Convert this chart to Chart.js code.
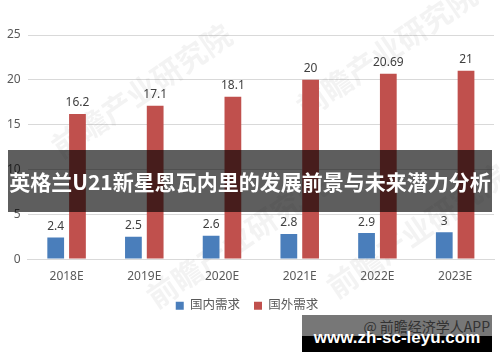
<!DOCTYPE html>
<html>
<head>
<meta charset="utf-8">
<script src="https://cdn.jsdelivr.net/npm/chart.js@4/dist/chart.umd.min.js"></script>
<style>
  html, body { margin: 0; padding: 0; background: #fff; }
  #wrap { position: relative; width: 500px; height: 362px; overflow: hidden; }
  #banner {
    position: absolute; left: 8px; top: 150px; width: 484px; height: 62px;
    background: rgba(0,0,0,0.63); color: #fff;
    font: bold 21px "Noto Sans CJK SC", sans-serif;
    line-height: 62px; text-align: center; white-space: nowrap;
  }
  #mark {
    position: absolute; left: 302px; top: 315px; width: 190px; height: 37px;
    background: linear-gradient(#777 0, #777 21px, #000 21px, #000 100%);
  }
  #mark .src {
    position: absolute; right: 2px; top: 1px; white-space: nowrap;
    font: 14px "Noto Sans CJK SC", sans-serif; color: #333;
  }
  #mark .url {
    position: absolute; left: 0; width: 190px; top: 13px; text-align: center; white-space: nowrap;
    font: bold 17px "Liberation Sans", sans-serif; color: #fff;
  }
</style>
</head>
<body>
<div id="wrap">
  <canvas id="chart" width="500" height="362"></canvas>
  <div id="banner">英格兰U21新星恩瓦内里的发展前景与未来潜力分析</div>
  <div id="mark"><span class="src">@ 前瞻经济学人APP</span><span class="url">www.zh-sc-leyu.com</span></div>
</div>
<script>
// 数据
var years = ['2018E', '2019E', '2020E', '2021E', '2022E', '2023E'];
var domestic = [2.4, 2.5, 2.6, 2.8, 2.9, 3];
var foreign = [16.2, 17.1, 18.1, 20, 20.69, 21];
var seriesNames = ['国内需求', '国外需求'];

var font = "'Noto Sans', 'Noto Sans CJK SC', sans-serif";

// 柱顶数值标签
var valueLabels = {
  id: 'valueLabels',
  afterDatasetsDraw: function(chart) {
    var ctx = chart.ctx;
    ctx.save();
    ctx.fillStyle = '#404040';
    ctx.font = '12px ' + font;
    ctx.textAlign = 'center';
    ctx.textBaseline = 'bottom';
    chart.data.datasets.forEach(function(ds, i) {
      chart.getDatasetMeta(i).data.forEach(function(bar, j) {
        ctx.fillText(String(ds.data[j]), bar.x, bar.y - 5);
      });
    });
    ctx.restore();
  }
};

// 水印
var watermark = {
  id: 'watermark',
  beforeDatasetsDraw: function(chart) {
    var ctx = chart.ctx;
    ctx.save();
    ctx.fillStyle = 'rgba(120,120,120,0.09)';
    ctx.font = 'bold 30px "Noto Sans CJK SC", sans-serif';
    [[55, 150], [150, 300], [300, 110], [330, 290]].forEach(function(p) {
      ctx.save();
      ctx.translate(p[0], p[1]);
      ctx.rotate(-0.6);
      ctx.fillText('前瞻产业研究院', 0, 0);
      ctx.restore();
    });
    ctx.restore();
  }
};

var ctx = document.getElementById('chart').getContext('2d');
var chart = new Chart(ctx, {
  type: 'bar',
  data: {
    labels: years,
    datasets: [{
      label: seriesNames[0],
      data: domestic,
      backgroundColor: '#4a7ebb'
    }, {
      label: seriesNames[1],
      data: foreign,
      backgroundColor: '#c0504d'
    }]
  },
  options: {
    responsive: false,
    animation: false,
    categoryPercentage: 0.56,
    barPercentage: 0.77,
    layout: { padding: { top: 35, right: 6, left: 0, bottom: 40 } },
    plugins: {
      legend: {
        position: 'bottom',
        labels: {
          boxWidth: 8, boxHeight: 8, padding: 14,
          color: '#595959',
          font: { size: 12.5, family: font }
        }
      },
      tooltip: { enabled: false }
    },
    scales: {
      x: {
        grid: { display: false },
        border: { color: '#d9d9d9' },
        ticks: { color: '#595959', font: { size: 12, family: font }, padding: 2 }
      },
      y: {
        min: 0, max: 25,
        border: { display: false },
        grid: { color: '#d9d9d9', drawTicks: false },
        ticks: { stepSize: 5, color: '#595959', font: { size: 12, family: font }, padding: 7 }
      }
    }
  },
  plugins: [watermark, valueLabels]
});
</script>
</body>
</html>
